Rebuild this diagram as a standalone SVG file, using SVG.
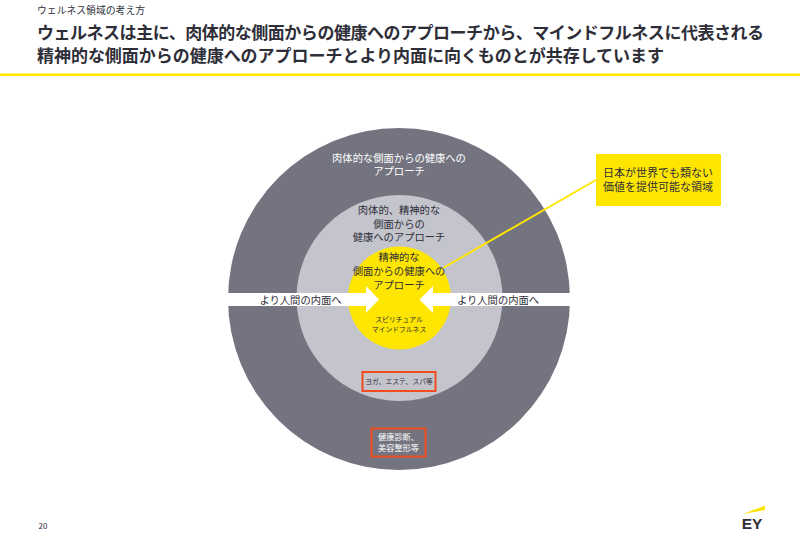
<svg xmlns="http://www.w3.org/2000/svg" width="800" height="546" viewBox="0 0 800 546">
<style>
text{font-family:"Noto Sans CJK JP","Noto Sans",sans-serif;text-anchor:middle;fill:#2e2e38}
.t{font-weight:700;font-size:17px;text-anchor:start}
.l{font-size:10.300px}
.c{font-size:11px}
.s{font-size:6.800px}
.m{font-size:8.200px}
.w{fill:#fff}
.box{fill:none;stroke:#f04c1e;stroke-width:2}
</style>
<rect width="800" height="546" fill="#fff"/>
<g id="header">
<text x="37" y="14" textLength="108" style="font-size:9.800px;text-anchor:start">ウェルネス領域の考え方</text>
<text class="t" x="37" y="38.500" textLength="727">ウェルネスは主に、肉体的な側面からの健康へのアプローチから、マインドフルネスに代表される</text>
<text class="t" x="37" y="61.500" textLength="627">精神的な側面からの健康へのアプローチとより内面に向くものとが共存しています</text>
<rect x="0" y="73.500" width="800" height="2.500" fill="#ffe600"/>
</g>
<g id="outer">
<circle cx="399" cy="299" r="171" fill="#747480"/>
<text class="l w" y="162"><tspan x="399">肉体的な側面からの健康への</tspan><tspan x="399" dy="13">アプローチ</tspan></text>
</g>
<g id="middle">
<circle cx="399.500" cy="298" r="103" fill="#c4c4cd"/>
<text class="l" y="214"><tspan x="399">肉体的、精神的な</tspan><tspan x="399" dy="14">側面からの</tspan><tspan x="399" dy="13">健康へのアプローチ</tspan></text>
</g>
<g id="inner">
<circle cx="399.500" cy="298" r="51.500" fill="#ffe600"/>
<text class="l" y="261"><tspan x="399">精神的な</tspan><tspan x="399" dy="14">側面からの健康への</tspan><tspan x="399" dy="14">アプローチ</tspan></text>
<text class="s" y="321.500"><tspan x="399">スピリチュアル</tspan><tspan x="399" dy="10">マインドフルネス</tspan></text>
</g>
<g id="connectors">
<polygon fill="#fff" points="228,293 366,293 366,286 379,299.500 366,313 366,306 228,306"/>
<polygon fill="#fff" points="570,293 433,293 433,286 419.500,299.500 433,313 433,306 570,306"/>
<line x1="596" y1="180" x2="443" y2="268" stroke="#ffe600" stroke-width="2"/>
</g>
<g id="arrow-label-left"><text class="l" x="300.500" y="303.500">より人間の内面へ</text></g>
<g id="arrow-label-right"><text class="l" x="498" y="303.500">より人間の内面へ</text></g>
<g id="callout">
<rect x="596" y="154" width="125" height="52" fill="#ffe600"/>
<text class="c" y="177"><tspan x="658">日本が世界でも類ない</tspan><tspan x="658" dy="14">価値を提供可能な領域</tspan></text>
</g>
<g id="yoga">
<rect class="box" x="362.500" y="372" width="73" height="19"/>
<text class="s" x="399" y="384">ヨガ、エステ、スパ等</text>
</g>
<g id="checkup">
<rect class="box" x="371.500" y="428.500" width="54" height="28"/>
<text class="m w" y="440"><tspan x="398.500">健康診断、</tspan><tspan x="398.500" dy="11">美容整形等</tspan></text>
</g>
<g id="footer">
<text x="43" y="529" style="font-size:8px">20</text>
<polygon points="743,514 765,505.500 765,510" fill="#ffe600"/>
<text x="752" y="529" style="font-family:'Liberation Sans',sans-serif;font-weight:700;font-size:15.500px">EY</text>
</g>
</svg>
